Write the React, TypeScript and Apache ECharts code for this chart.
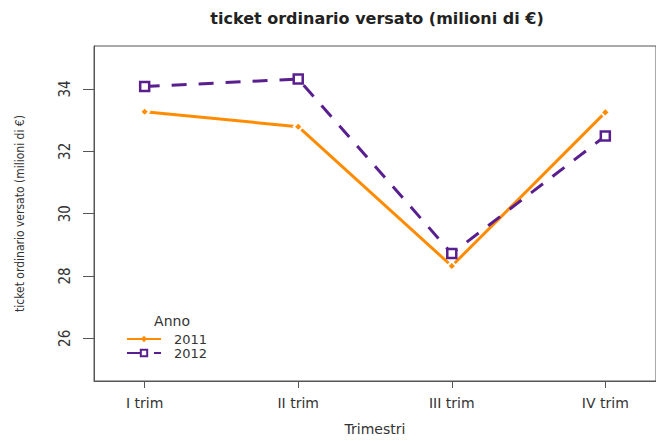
import React, { useEffect, useRef } from "react";
import * as echarts from "echarts";

const categories = ["I trim", "II trim", "III trim", "IV trim"];
const categoryPositions = [1, 2, 3, 4];
const years = ["2011", "2012"];
const values2011 = [33.27, 32.79, 28.32, 33.25];
const values2012 = [34.08, 34.32, 28.72, 32.49];
const yTicks = [26, 28, 30, 32, 34];

const ORANGE = "#FF8C00";
const PURPLE = "#5A1F8E";
const TEXT = "#333333";
const AXIS = "#555555";
const WIDE = "DejaVu Sans, Liberation Sans, sans-serif";
const NARROW = "Liberation Sans Narrow, DejaVu Sans Condensed, Liberation Sans, sans-serif";

export default function App() {
  const ref = useRef<HTMLDivElement>(null);
  useEffect(() => {
    const chart = echarts.init(ref.current!, null, { renderer: "svg" });
    const toPoints = (vals: number[]) => vals.map((v, i) => [categoryPositions[i], v]);
    chart.setOption({
      animation: false,
      backgroundColor: "#ffffff",
      title: [
        {
          text: "ticket ordinario versato (milioni di €)",
          left: 377,
          top: 10,
          textAlign: "center",
          padding: 0,
          textStyle: { fontFamily: WIDE, fontWeight: "bold", fontSize: 16, color: "#222" },
        },
        {
          text: "Anno",
          left: 172,
          top: 314,
          textAlign: "center",
          padding: 0,
          textStyle: { fontFamily: WIDE, fontWeight: "normal", fontSize: 14, color: TEXT },
        },
      ],
      grid: {
        left: 94,
        top: 46,
        right: -4,
        bottom: 57,
        show: true,
        borderColor: AXIS,
        borderWidth: 1,
        backgroundColor: "transparent",
      },
      legend: {
        data: [
          { name: years[0], itemStyle: { borderWidth: 0 } },
          { name: years[1], itemStyle: { borderWidth: 2 } },
        ],
        orient: "vertical",
        left: 126,
        top: 332,
        padding: 0,
        itemWidth: 34,
        itemHeight: 8,
        itemGap: 0,
        lineStyle: { width: 2 },
        textStyle: {
          fontFamily: WIDE,
          fontSize: 13,
          color: TEXT,
          lineHeight: 14,
          padding: [0, 0, 0, 8],
        },
      },
      xAxis: {
        type: "value",
        min: 0.67,
        max: 4.33,
        name: "Trimestri",
        nameLocation: "middle",
        nameGap: 41,
        nameTextStyle: { fontFamily: WIDE, fontSize: 14, color: TEXT },
        axisLine: { show: true, lineStyle: { color: AXIS, width: 1 } },
        axisTick: { show: true, length: 7, customValues: categoryPositions, lineStyle: { color: AXIS } },
        axisLabel: {
          customValues: categoryPositions,
          formatter: (v: number) => categories[Math.round(v) - 1] ?? "",
          margin: 15,
          fontFamily: WIDE,
          fontSize: 14,
          color: TEXT,
        },
        splitLine: { show: false },
      },
      yAxis: {
        type: "value",
        min: 24.63,
        max: 35.38,
        name: "ticket ordinario versato (milioni di €)",
        nameLocation: "middle",
        nameGap: 68,
        nameRotate: 90,
        nameTextStyle: { fontFamily: NARROW, fontSize: 12, color: TEXT },
        axisLine: { show: true, lineStyle: { color: AXIS, width: 1 } },
        axisTick: { show: true, length: 11, customValues: yTicks, lineStyle: { color: AXIS } },
        axisLabel: {
          customValues: yTicks,
          rotate: 90,
          margin: 22,
          fontFamily: NARROW,
          fontSize: 15,
          color: TEXT,
        },
        splitLine: { show: false },
      },
      series: [
        {
          name: years[0],
          type: "line",
          data: toPoints(values2011),
          symbol: "diamond",
          symbolSize: 9,
          lineStyle: { color: ORANGE, width: 3 },
          itemStyle: { color: ORANGE, borderColor: "#ffffff", borderWidth: 2 },
          z: 2,
        },
        {
          name: years[1],
          type: "line",
          data: toPoints(values2012),
          symbol: "rect",
          symbolSize: 9,
          lineStyle: { color: PURPLE, width: 3, type: [15, 12] },
          itemStyle: { color: "#ffffff", borderColor: PURPLE, borderWidth: 2.5 },
          z: 3,
        },
      ],
    });
    return () => chart.dispose();
  }, []);
  return (
    <div
      ref={ref}
      style={{ position: "fixed", left: 0, top: 0, width: 656, height: 441 }}
    />
  );
}
